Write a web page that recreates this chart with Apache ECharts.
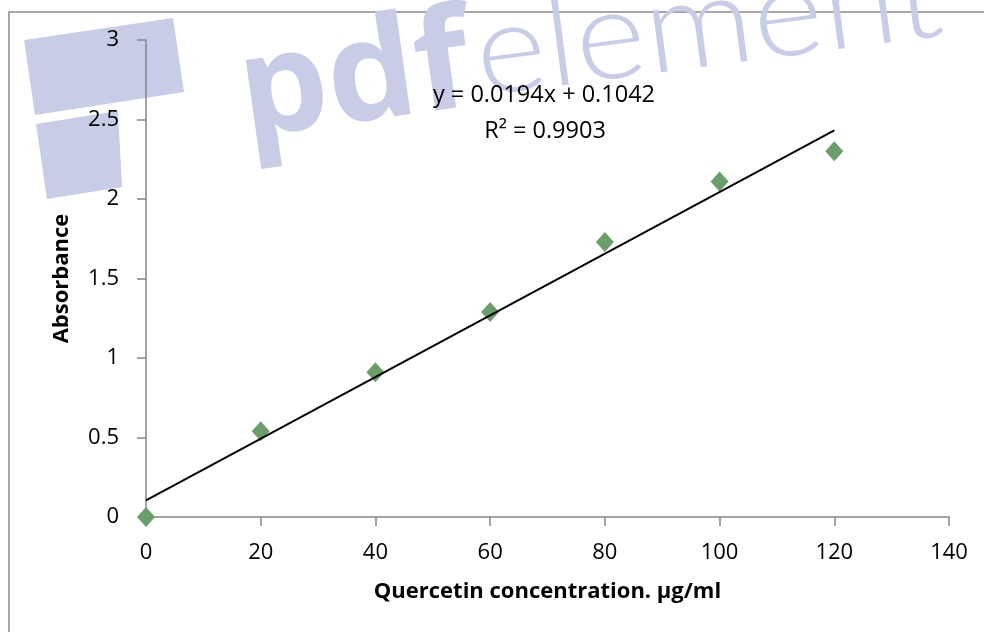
<!DOCTYPE html>
<html>
<head>
<meta charset="utf-8">
<script src="https://cdn.jsdelivr.net/npm/echarts@6/dist/echarts.min.js"></script>
<style>html,body{margin:0;padding:0;background:#fff}#c{width:984px;height:632px}</style>
</head>
<body>
<div id="c"></div>
<script>
// Data
const concentrations = [0, 20, 40, 60, 80, 100, 120];
const absorbance = [0, 0.54, 0.91, 1.29, 1.73, 2.11, 2.30];
const trendSlope = 0.0194;
const trendIntercept = 0.1042;
const rSquared = 0.9903;
const xTicks = [0, 20, 40, 60, 80, 100, 120, 140];
const yTicks = [0, 0.5, 1, 1.5, 2, 2.5, 3];
const xTitle = 'Quercetin concentration. µg/ml';
const yTitle = 'Absorbance';
const equationText = 'y = ' + trendSlope + 'x + ' + trendIntercept;
const r2Text = 'R² = ' + rSquared;

const scatterData = concentrations.map((x, i) => [x, absorbance[i]]);
const xFirst = concentrations[0], xLast = concentrations[concentrations.length - 1];
const trendData = [[xFirst, trendIntercept + trendSlope * xFirst], [xLast, trendIntercept + trendSlope * xLast]];

const FONT = '"Open Sans", sans-serif';
const WM = '#c8cce6';
const chart = echarts.init(document.getElementById('c'), null, {renderer: 'canvas'});
chart.setOption({
  animation: false,
  backgroundColor: '#fff',
  grid: {left: 146, right: 35, top: 40, bottom: 115},
  xAxis: {
    type: 'value', min: xTicks[0], max: xTicks[xTicks.length - 1], interval: 20,
    name: xTitle, nameLocation: 'middle', nameGap: 64,
    nameTextStyle: {fontFamily: FONT, fontWeight: 'bold', fontSize: 22, color: '#000'},
    axisLine: {lineStyle: {color: '#868686', width: 1.5}},
    axisTick: {show: true, length: 9, lineStyle: {color: '#868686', width: 1.5}},
    axisLabel: {fontFamily: FONT, fontSize: 22, color: '#000', margin: 25},
    splitLine: {show: false}
  },
  yAxis: {
    type: 'value', min: yTicks[0], max: yTicks[yTicks.length - 1], interval: 0.5,
    name: yTitle, nameLocation: 'middle', nameGap: 73, nameRotate: 90,
    nameTextStyle: {fontFamily: FONT, fontWeight: 'bold', fontSize: 22, color: '#000'},
    axisLine: {show: true, lineStyle: {color: '#868686', width: 1.5}},
    axisTick: {show: true, length: 9, lineStyle: {color: '#868686', width: 1.5}},
    axisLabel: {fontFamily: FONT, fontSize: 22, color: '#000', margin: 27},
    splitLine: {show: false}
  },
  graphic: [
    {type: 'rect', shape: {x: 9, y: 12, width: 1000, height: 700}, style: {fill: 'none', stroke: '#8a8a8a', lineWidth: 1.5}, z: -10},
    {type: 'polygon', shape: {points: [[24, 40], [173, 18], [184, 92], [35, 115]]}, style: {fill: WM}, z: -5},
    {type: 'polygon', shape: {points: [[36, 124], [118, 111], [122, 187], [47, 199]]}, style: {fill: WM}, z: -5},
    {type: 'text', x: 250, y: 167, rotation: 0.14, style: {text: 'pdf', fontFamily: '"Open Sans", sans-serif', fontWeight: 'bold', fontSize: 140, fill: WM, verticalAlign: 'bottom'}, z: -5},
    {type: 'text', x: 484, y: 118, rotation: 0.13, scaleX: 1.07, style: {text: 'element', fontFamily: 'Lato, sans-serif', fontWeight: 300, fontSize: 126, fill: WM, verticalAlign: 'bottom'}, z: -5},
    {type: 'text', x: 544, y: 95, style: {text: equationText, fontFamily: FONT, fontSize: 23.5, fill: '#000', align: 'center', verticalAlign: 'middle'}, z: 10},
    {type: 'text', x: 545, y: 131, style: {text: r2Text, fontFamily: FONT, fontSize: 23.5, fill: '#000', align: 'center', verticalAlign: 'middle'}, z: 10}
  ],
  series: [
    {
      type: 'scatter', data: scatterData, symbol: 'diamond', symbolSize: [18, 20],
      itemStyle: {color: '#6b9e6b', opacity: 1}, clip: false, z: 3
    },
    {
      type: 'line', data: trendData, symbol: 'none', lineStyle: {color: '#000', width: 2},
      silent: true, z: 4
    }
  ]
});
</script>
</body>
</html>
